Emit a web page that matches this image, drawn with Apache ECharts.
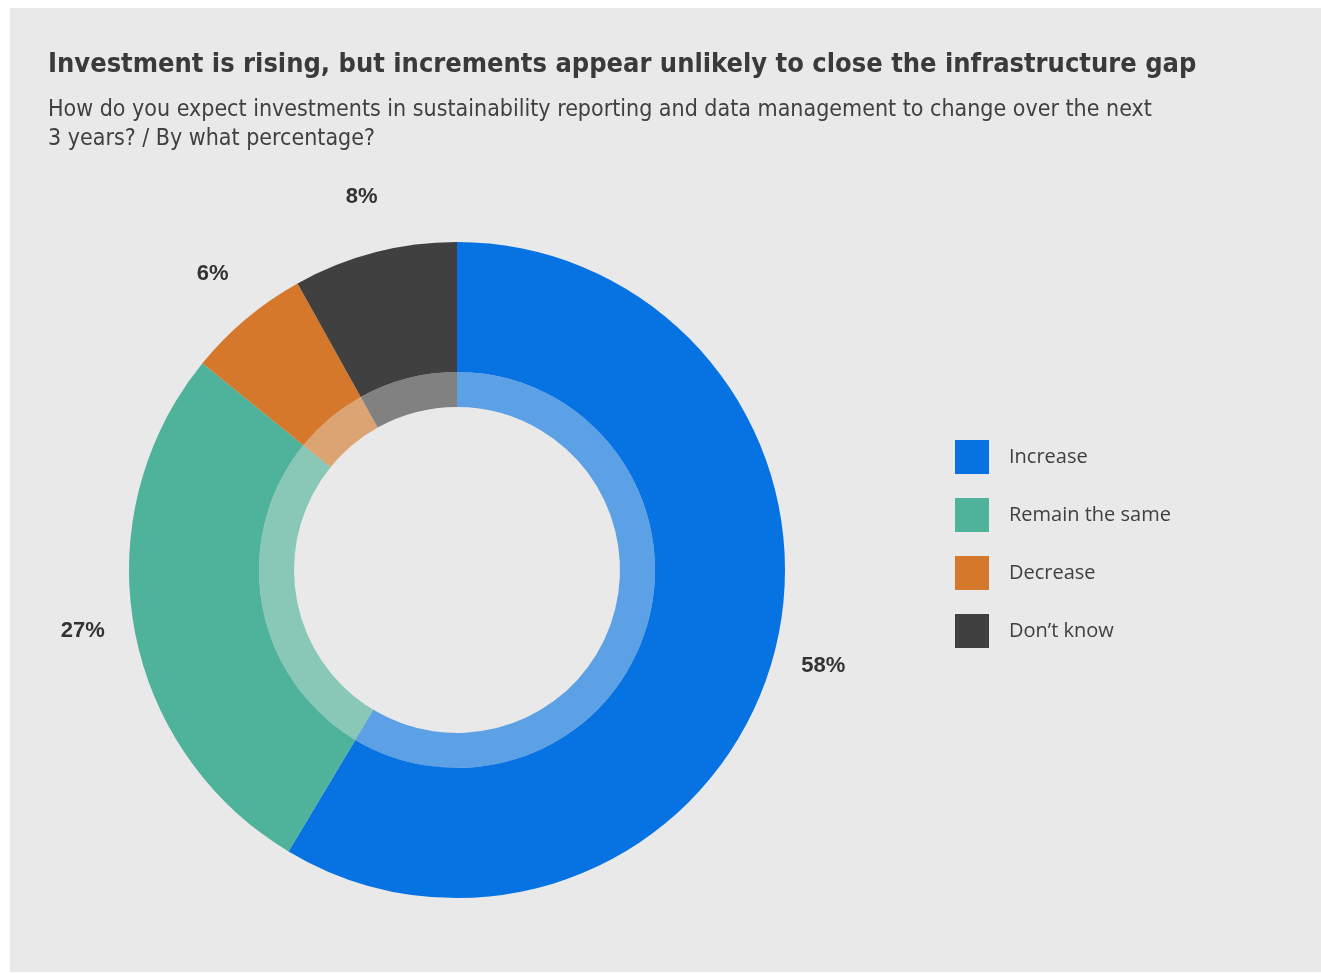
<!DOCTYPE html>
<html>
<head>
<meta charset="utf-8">
<title>Investment is rising</title>
<script src="https://cdn.jsdelivr.net/npm/echarts@6/dist/echarts.min.js"></script>
<style>
  html, body { margin: 0; padding: 0; background: #ffffff; }
  #chart { position: absolute; left: 10px; top: 8px; width: 1311px; height: 964px; background: #e8e9e8; }
</style>
</head>
<body>
<div id="chart"></div>
<script>
// Survey answers and their shares (%)
const categories = ['Increase', 'Remain the same', 'Decrease', 'Don\u2019t know'];
const shares = [58, 27, 6, 8];
const colors = ['#0773e3', '#4fb29a', '#d5782b', '#404040'];

const titleText = 'Investment is rising, but increments appear unlikely to close the infrastructure gap';
const subtitleText = 'How do you expect investments in sustainability reporting and data management to change over the next\n3 years? / By what percentage?';

const condensed = '"Liberation Sans Narrow", "DejaVu Sans Condensed", sans-serif';

const chart = echarts.init(document.getElementById('chart'), null, { renderer: 'canvas' });

const items = categories.map((name, i) => ({ name, value: shares[i] }));
const center = [447, 562];

chart.setOption({
  backgroundColor: '#e8e9e8',
  animation: false,
  color: colors,
  title: [
    {
      text: titleText,
      left: 38, top: 39, padding: 0,
      textStyle: { fontFamily: condensed, fontWeight: 'bold', fontSize: 27, lineHeight: 36, color: '#3a3a3a' }
    },
    {
      text: subtitleText,
      left: 38, top: 88, padding: 0,
      textStyle: { fontFamily: condensed, fontWeight: 'normal', fontSize: 23, lineHeight: 29, color: '#404040' }
    }
  ],
  legend: {
    orient: 'vertical',
    left: 940, top: 427,
    itemWidth: 34, itemHeight: 34, itemGap: 24,
    icon: 'rect',
    selectedMode: false,
    data: categories,
    textStyle: { fontFamily: '"Open Sans", "Noto Sans", sans-serif', fontSize: 20, color: '#404040', padding: [0, 0, 0, 15] }
  },
  series: [
    {
      // main ring
      type: 'pie',
      center: center,
      radius: [198, 328],
      startAngle: 90,
      clockwise: true,
      silent: true,
      label: { show: false },
      labelLine: { show: false },
      itemStyle: { borderWidth: 0 },
      data: items
    },
    {
      // lighter inner band
      type: 'pie',
      center: center,
      radius: [163, 198],
      startAngle: 90,
      clockwise: true,
      silent: true,
      label: { show: false },
      labelLine: { show: false },
      itemStyle: { opacity: 0.62, borderWidth: 0 },
      data: items
    },
    {
      // percentage labels around the ring
      type: 'pie',
      center: center,
      radius: [354, 400],
      startAngle: 90,
      clockwise: true,
      silent: true,
      itemStyle: { color: 'rgba(0,0,0,0)' },
      labelLine: { show: false },
      label: {
        show: true,
        position: 'inside',
        formatter: '{c}%',
        offset: [0, -5],
        fontFamily: '"Liberation Sans", Arial, sans-serif',
        fontWeight: 'bold',
        fontSize: 22,
        color: '#333333'
      },
      data: items
    }
  ]
});
</script>
</body>
</html>
